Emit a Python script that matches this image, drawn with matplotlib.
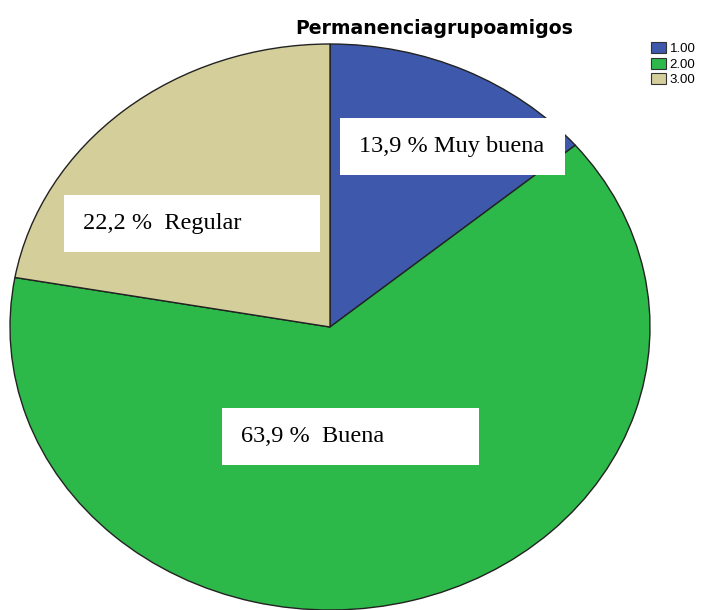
import matplotlib.pyplot as plt
from matplotlib.patches import Rectangle, Patch

categories = ['1.00', '2.00', '3.00']
labels = ['Muy buena', 'Buena', 'Regular']
values = [13.9, 63.9, 22.2]
colors = ['#3e58ac', '#2db84a', '#d3ce9a']

W, H = 703, 610
fig = plt.figure(figsize=(W / 100, H / 100), dpi=100)

# elliptical pie: axes spans the ellipse bbox in pixels
ax = fig.add_axes([10 / W, (H - 610) / H, 640 / W, 566 / H])
ax.pie(values, colors=colors, startangle=90, counterclock=False,
       wedgeprops=dict(edgecolor='#222222', linewidth=1.0))
ax.set_aspect('auto')
ax.set_xlim(-1, 1)
ax.set_ylim(-1, 1)
ax.axis('off')

# label boxes (pixel coords: x0, y0, x1, y1)
boxes = [(340, 118, 565, 175), (222, 408, 479, 465), (64, 195, 320, 252)]
texts = ['13,9 % Muy buena', '63,9 %  Buena', '22,2 %  Regular']
for (x0, y0, x1, y1), t in zip(boxes, texts):
    fig.add_artist(Rectangle((x0 / W, 1 - y1 / H), (x1 - x0) / W, (y1 - y0) / H,
                             transform=fig.transFigure, facecolor='white',
                             edgecolor='none', zorder=5))
    fig.text((x0 + 19) / W, 1 - (y1 - 23) / H, t, fontsize=17.5,
             family='Liberation Serif', va='baseline', ha='left', zorder=6)

fig.text(434 / W, 1 - 28 / H, 'Permanenciagrupoamigos', fontsize=13.6,
         fontweight='bold', family='DejaVu Sans', ha='center', va='center')

handles = [Patch(facecolor=c, edgecolor='#333333', linewidth=0.8) for c in colors]
fig.legend(handles, categories, loc='upper left', bbox_to_anchor=(651 / W, 1 - 42 / H),
           frameon=False, handlelength=1.1, handleheight=0.9,
           handletextpad=0.3, labelspacing=0.2, borderpad=0, borderaxespad=0,
           prop={'family': 'Liberation Sans', 'size': 9.5})

plt.savefig('out.png', dpi=100)
